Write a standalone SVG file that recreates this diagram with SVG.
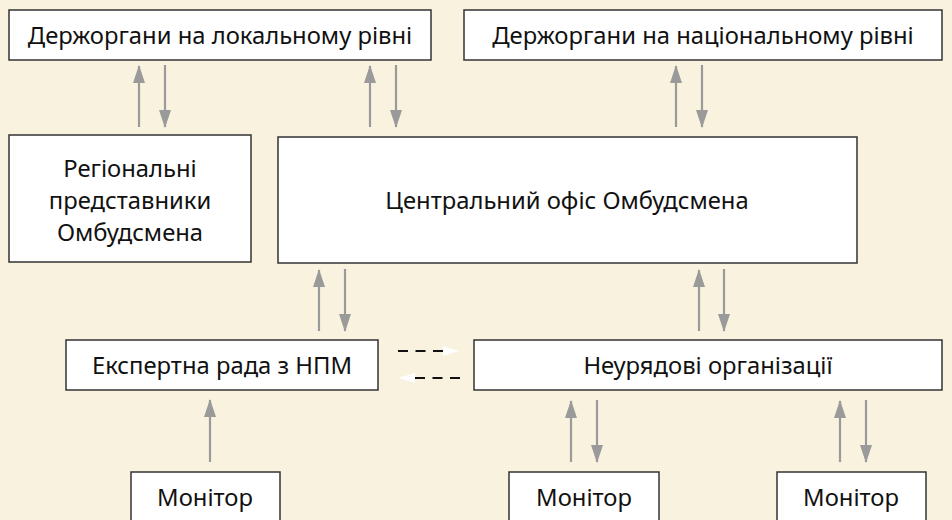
<svg xmlns="http://www.w3.org/2000/svg" width="952" height="520" viewBox="0 0 952 520">
<defs>
<marker id="ah" viewBox="0 0 18 12" refX="17" refY="6" markerWidth="18" markerHeight="12" markerUnits="userSpaceOnUse" orient="auto">
<path d="M0,0 L18,6 L0,12 Z" fill="#9a9a9a"/>
</marker>
<style>
.box{fill:#fff;stroke:#333;stroke-width:1.5}
.t{font-family:"Noto Sans","Open Sans",sans-serif;font-size:23.8px;fill:#111;text-anchor:middle}
.c{stroke:#9a9a9a;stroke-width:2.2;fill:none}
.dash{stroke:#111;stroke-width:2;stroke-dasharray:10 7.5;fill:none}
</style>
</defs>
<rect width="952" height="520" fill="#f9f2df"/>
<g id="local"><rect class="box" x="9" y="10" width="422" height="50"/><text class="t" x="220" y="44">Держоргани на локальному рівні</text></g>
<g id="national"><rect class="box" x="464" y="10" width="478" height="50"/><text class="t" x="703" y="44">Держоргани на національному рівні</text></g>
<g id="regional"><rect class="box" x="9" y="135" width="242" height="127"/><text class="t" x="130" y="177">Регіональні</text><text class="t" x="130" y="209">представники</text><text class="t" x="130" y="241">Омбудсмена</text></g>
<g id="central"><rect class="box" x="278" y="137" width="579" height="126"/><text class="t" x="567" y="209">Центральний офіс Омбудсмена</text></g>
<g id="expert"><rect class="box" x="66" y="340" width="312" height="50"/><text class="t" x="222" y="374">Експертна рада з НПМ</text></g>
<g id="ngo"><rect class="box" x="474" y="340" width="468" height="50"/><text class="t" x="708" y="374">Неурядові організації</text></g>
<g id="mon1"><rect class="box" x="131" y="472" width="149" height="60"/><text class="t" x="205" y="506">Монітор</text></g>
<g id="mon2"><rect class="box" x="509" y="472" width="150" height="60"/><text class="t" x="584" y="506">Монітор</text></g>
<g id="mon3"><rect class="box" x="777" y="472" width="149" height="60"/><text class="t" x="851" y="506">Монітор</text></g>
<g id="connectors">
<g class="c">
<path d="M139,127 V66" marker-end="url(#ah)"/>
<path d="M165,65 V127" marker-end="url(#ah)"/>
<path d="M370,127 V66" marker-end="url(#ah)"/>
<path d="M396,65 V127" marker-end="url(#ah)"/>
<path d="M676,127 V66" marker-end="url(#ah)"/>
<path d="M702,65 V127" marker-end="url(#ah)"/>
<path d="M319,331 V270" marker-end="url(#ah)"/>
<path d="M345,269 V331" marker-end="url(#ah)"/>
<path d="M699,331 V270" marker-end="url(#ah)"/>
<path d="M724,269 V331" marker-end="url(#ah)"/>
<path d="M210,462 V400" marker-end="url(#ah)"/>
<path d="M571,462 V401" marker-end="url(#ah)"/>
<path d="M597,400 V462" marker-end="url(#ah)"/>
<path d="M840,462 V401" marker-end="url(#ah)"/>
<path d="M866,400 V462" marker-end="url(#ah)"/>
</g>
<path class="dash" d="M398,351 H443"/>
<path d="M443,346 L459,351 L443,356 Z" fill="#fff"/>
<path class="dash" d="M460,378 H415"/>
<path d="M415,373 L398,378 L415,383 Z" fill="#fff"/>
</g>
</svg>
